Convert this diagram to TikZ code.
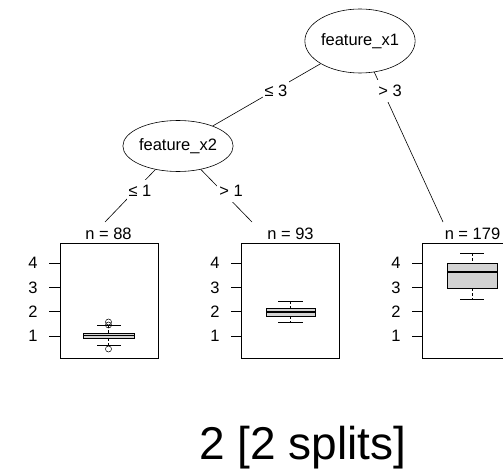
\documentclass[tikz,border=0pt]{standalone}
\usepackage{fontspec}
\setmainfont{Liberation Sans}
\usetikzlibrary{shapes.geometric}
\newcommand{\smallfnt}{\fontsize{16.5}{19}\selectfont}
\newcommand{\titlefnt}{\fontsize{46}{54}\selectfont}
\definecolor{boxgray}{HTML}{D3D3D3}
\tikzset{
  splitnode/.style={ellipse, draw, fill=white, line width=0.6pt, inner sep=0pt, font=\smallfnt},
  edgelbl/.style={fill=white, inner xsep=2pt, inner ysep=0pt, minimum height=22pt, font=\smallfnt},
  conn/.style={line width=0.6pt},
  panelbox/.style={draw, line width=0.6pt, minimum width=98pt, minimum height=115pt, inner sep=0pt},
  nlbl/.style={font=\smallfnt, inner sep=0pt},
  ticklbl/.style={font=\smallfnt, inner sep=0pt},
  tickmark/.style={line width=0.6pt},
  bpbox/.style={draw, fill=boxgray, line width=0.5pt},
  bpmed/.style={line width=1.6pt},
  bpwhisk/.style={line width=0.5pt, dashed, dash pattern=on 3pt off 2pt},
  bpcap/.style={line width=0.5pt},
  outlier/.style={draw, line width=0.5pt, circle, inner sep=0pt, minimum size=6pt}
}
\begin{document}
\begin{tikzpicture}[x=1pt, y=-1pt]
\useasboundingbox (0,0) rectangle (503,470);
\clip (0,0) rectangle (503,470);

% inner nodes
\node[splitnode, minimum width=106pt, minimum height=64pt] (n1) at (360,41) {feature\_x1};
\node[splitnode, minimum width=106pt, minimum height=51pt] (n2) at (178,146) {feature\_x2};

% connector ends
\coordinate (c1) at (105,222);
\coordinate (c2) at (252,222);
\coordinate (c3) at (443,222);

\draw[conn] (n1) -- (n2);
\draw[conn] (n1) -- (c3);
\draw[conn] (n2) -- (c1);
\draw[conn] (n2) -- (c2);

\node[edgelbl] (l13) at (276,91) {≤ 3};
\node[edgelbl] (l23) at (390,91) {> 3};
\node[edgelbl] (l11) at (140,191) {≤ 1};
\node[edgelbl] (l21) at (231,191) {> 1};

% panels
\node[panelbox] (p1) at (109,300.5) {};
\node[panelbox] (p2) at (290.5,300.5) {};
\node[panelbox] (p3) at (471.5,300.5) {};

\node[nlbl, anchor=base] (t1) at (108.5,240) {n = 88};
\node[nlbl, anchor=base] (t2) at (290.5,240) {n = 93};
\node[nlbl, anchor=base] (t3) at (472.5,240) {n = 179};

% axes
\foreach \px/\nm in {60/p1, 242/p2, 423/p3}{
  \foreach \v in {1,2,3,4}{
    \pgfmathsetmacro{\yy}{360.33-24.33*\v}
    \draw[tickmark] (\px-11,\yy) -- (\px,\yy);
    \node[ticklbl] (\nm-tick\v) at (\px-27,\yy) {\v};
  }
}

% boxplot 1
\draw[bpwhisk] (108.5,325) -- (108.5,333);
\draw[bpwhisk] (108.5,338) -- (108.5,345);
\draw[bpcap] (97,325) -- (121,325);
\draw[bpcap] (97,345) -- (121,345);
\draw[bpbox] (83,333) rectangle (134,338);
\draw[bpmed] (83,335.5) -- (134,335.5);
\node[outlier] (o1) at (108.5,322) {};
\node[outlier] (o2) at (108.5,325) {};
\node[outlier] (o3) at (108.5,349) {};

% boxplot 2
\draw[bpwhisk] (290.5,301) -- (290.5,308);
\draw[bpwhisk] (290.5,316) -- (290.5,322);
\draw[bpcap] (278,301) -- (303,301);
\draw[bpcap] (278,322) -- (303,322);
\draw[bpbox] (266,308) rectangle (315,316);
\draw[bpmed] (266,312) -- (315,312);

% boxplot 3
\draw[bpwhisk] (472,253) -- (472,263);
\draw[bpwhisk] (472,288) -- (472,299);
\draw[bpcap] (460,253) -- (484,253);
\draw[bpcap] (460,299) -- (484,299);
\draw[bpbox] (447,263) rectangle (497,288);
\draw[bpmed] (447,272) -- (497,272);

% title
\node[font=\titlefnt, anchor=base, inner sep=0pt] (title) at (303,459) {2 [2 splits]};
\end{tikzpicture}
\end{document}
